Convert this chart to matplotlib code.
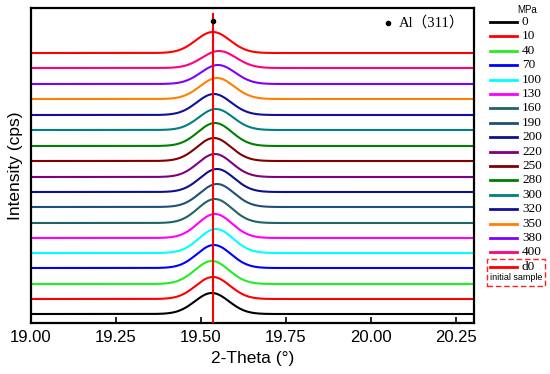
import matplotlib
matplotlib.use("Agg")
import matplotlib.pyplot as plt
import numpy as np
from matplotlib.lines import Line2D
from matplotlib.patches import Rectangle

# series, bottom curve first
labels = ["0", "10", "40", "70", "100", "130", "160", "190", "200",
          "220", "250", "280", "300", "320", "350", "380", "400", "d0"]
colors = ["#000000", "#ff0000", "#22ee22", "#0000ff", "#00ffff", "#ff00ff",
          "#1f6464", "#1f4f7a", "#10108a", "#800080", "#800000", "#008000",
          "#008080", "#101098", "#ff8000", "#8000ff", "#ff0080", "#ff0000"]
peak_pos = [19.532, 19.535, 19.532, 19.538, 19.544, 19.541, 19.541, 19.547, 19.547,
            19.541, 19.538, 19.541, 19.544, 19.538, 19.547, 19.550, 19.553, 19.535]
peak_height = [21, 22, 23, 23, 24, 24, 24, 23, 23, 23, 23, 23, 21, 21, 21, 19, 17, 21]
offsets = [9, 24, 39, 55, 70, 85, 100, 116, 131, 146, 162, 177, 193, 208, 224, 239, 255, 270]
peak_width = 0.05
ref_pos = 19.535

W, H = 550, 374
fig = plt.figure(figsize=(W / 100, H / 100), dpi=100)
ax = fig.add_axes([31 / W, 1 - 323 / H, 443 / W, 315 / H])


def px(x, y):
    # pixel (top-left origin) -> figure fraction
    return x / W, 1 - y / H


x = np.linspace(19.0, 20.31, 800)
for lab, c, p, h, off in zip(labels, colors, peak_pos, peak_height, offsets):
    y = off + h * np.exp(-0.5 * ((x - p) / peak_width) ** 2)
    ax.plot(x, y, color=c, lw=1.5, solid_capstyle="butt")

# reference line for Al(311)
ax.plot([ref_pos, ref_pos], [1, 309], color="#ff0000", lw=1.5, zorder=5)
ax.plot(ref_pos, 302, "o", color="black", ms=3, zorder=6)

ax.set_xlim(19.0, 20.303)
ax.set_ylim(0, 315)
ax.set_xticks([19.0, 19.25, 19.5, 19.75, 20.0, 20.25])
ax.set_xticklabels(["19.00", "19.25", "19.50", "19.75", "20.00", "20.25"],
                   fontsize=12, family="Liberation Sans")
ax.set_yticks([])
ax.tick_params(axis="x", direction="in", length=4, width=1.2, pad=5)
for s in ax.spines.values():
    s.set_linewidth(1.6)
ax.set_xlabel("2-Theta (°)", fontsize=12.5, family="Liberation Sans", labelpad=4)
ax.set_ylabel("Intensity (cps)", fontsize=12.5, family="Liberation Sans", labelpad=6)

# Al(311) marker note
ax.plot(0.805, 0.952, "o", color="black", ms=3, transform=ax.transAxes)
ax.text(0.83, 0.952, "Al（311）", transform=ax.transAxes, va="center", ha="left",
        fontsize=10.5, family=["Liberation Serif", "Noto Sans CJK SC"])

# legend drawn by hand
fig.text(*px(527, 10), "MPa", fontsize=7, ha="center", va="center",
         family="Liberation Sans")
for i, (n, c) in enumerate(zip(labels, colors)):
    yy = 22 + i * 14.4
    x0, y0 = px(490, yy)
    x1, _ = px(517, yy)
    fig.add_artist(Line2D([x0, x1], [y0, y0], color=c, lw=2))
    fig.text(*px(522, yy), n, fontsize=9.5, ha="left", va="center",
             family="Liberation Serif")
fig.text(*px(516, 278), "initial sample", fontsize=6.5, ha="center", va="center",
         family="Liberation Sans")
bx, by = px(487, 286)
fig.add_artist(Rectangle((bx, by), 58 / W, 27 / H, fill=False, ec="#ff2020",
                         lw=1, ls=(0, (4, 2)), transform=fig.transFigure))

fig.savefig("out.png", dpi=100)
